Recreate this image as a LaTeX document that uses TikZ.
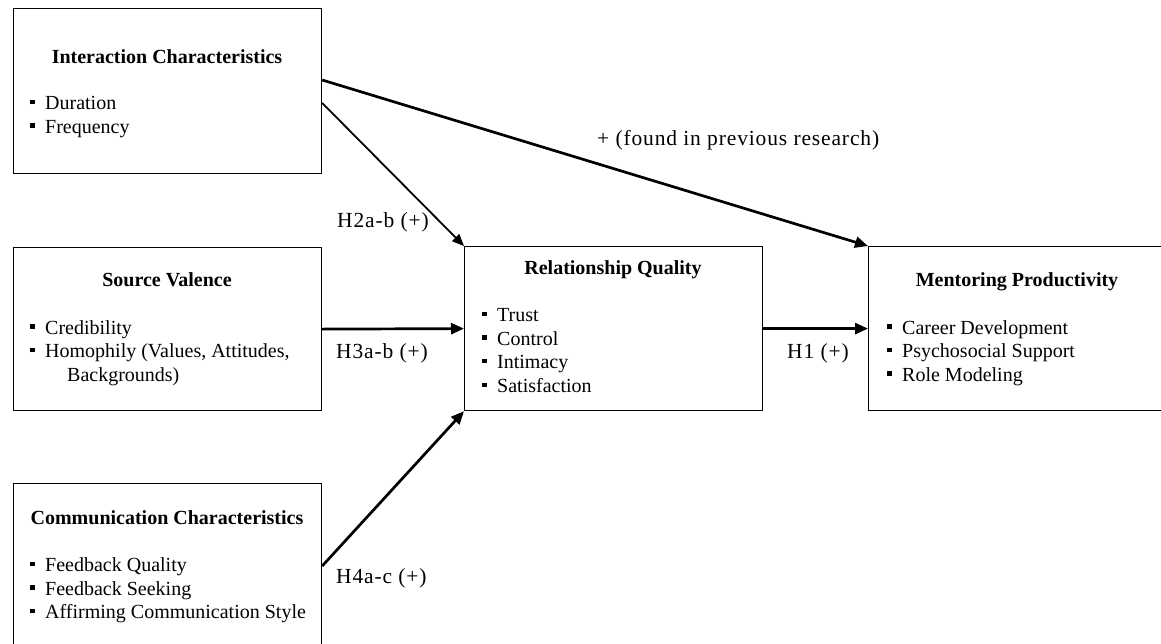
\documentclass[tikz,border=0pt]{standalone}
\usepackage{fontspec}
\setmainfont{Liberation Serif}
\usetikzlibrary{arrows.meta}
\newcommand\sqb{\makebox[15pt][l]{\raisebox{5.5pt}{\rule{4.5pt}{4.5pt}}}}
\begin{document}
\begin{tikzpicture}[x=1pt,y=-1pt,
  box/.style={draw, line width=1.2pt, inner sep=0pt, anchor=north west},
  ttl/.style={font=\fontsize{20}{23.7}\selectfont\bfseries, anchor=base, inner sep=0pt},
  lst/.style={font=\fontsize{20}{23.7}\selectfont, anchor=base west, inner sep=0pt, align=left},
  lbl/.style={font=\fontsize{21.5}{24}\selectfont\addfontfeature{LetterSpace=4}, anchor=base west, inner sep=0pt},
  conn/.style={line width=2.7pt, -{Triangle[length=13pt,width=11pt]}},
  connthin/.style={line width=1.8pt, -{Triangle[length=12pt,width=10pt]}}
]
\useasboundingbox (0,0) rectangle (1161,643);
% boxes
\node[box, minimum width=308pt, minimum height=165pt] (ic) at (13,8) {};
\node[box, minimum width=308pt, minimum height=163pt] (sv) at (13,247) {};
\node[box, minimum width=308pt, minimum height=172pt] (cc) at (13,483) {};
\node[box, minimum width=298pt, minimum height=164pt] (rq) at (464,246) {};
\node[box, minimum width=300pt, minimum height=164pt] (mp) at (868,246) {};
% box texts (list nodes anchored at the baseline of their last line)
\node[ttl] (ict) at (167,63.5) {Interaction Characteristics};
\node[lst] (icl) at (30,133.2) {\sqb Duration\\\sqb Frequency};
\node[ttl] (svt) at (167,286.5) {Source Valence};
\node[lst] (svl) at (30,381.4) {\sqb Credibility\\\sqb Homophily (Values, Attitudes,\\\hspace*{37pt}Backgrounds)};
\node[ttl] (cct) at (167,524.5) {Communication Characteristics};
\node[lst] (ccl) at (30,618.9) {\sqb Feedback Quality\\\sqb Feedback Seeking\\\sqb Affirming Communication Style};
\node[ttl] (rqt) at (613,274.5) {Relationship Quality};
\node[lst] (rql) at (482,392.6) {\sqb Trust\\\sqb Control\\\sqb Intimacy\\\sqb Satisfaction};
\node[ttl] (mpt) at (1017,286.5) {Mentoring Productivity};
\node[lst] (mpl) at (887,381.4) {\sqb Career Development\\\sqb Psychosocial Support\\\sqb Role Modeling};
% connectors
\draw[conn] ([yshift=-72pt]ic.north east) -- (mp.north west);
\draw[connthin] ([yshift=-95pt]ic.north east) -- (rq.north west);
\draw[conn] (sv.east) -- (rq.west);
\draw[conn] ([yshift=-83pt]cc.north east) -- (rq.south west);
\draw[conn] (rq.east) -- (mp.west);
% labels
\node[lbl] (l0) at (597,145) {+ (found in previous research)};
\node[lbl] (l2) at (337,227) {H2a-b (+)};
\node[lbl] (l3) at (336,358) {H3a-b (+)};
\node[lbl] (l4) at (336,583) {H4a-c (+)};
\node[lbl] (l1) at (787,358) {H1 (+)};
\end{tikzpicture}
\end{document}
